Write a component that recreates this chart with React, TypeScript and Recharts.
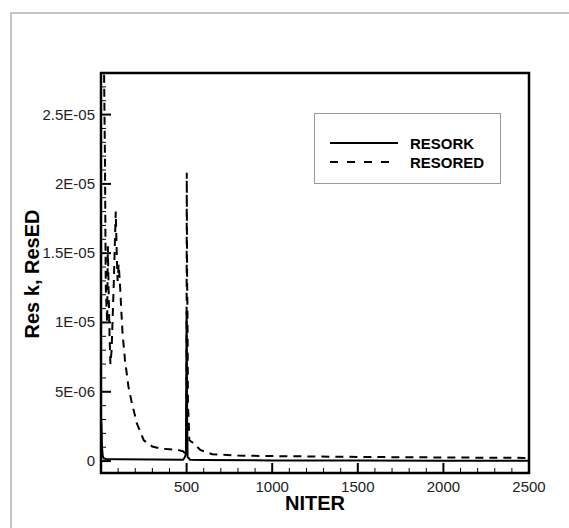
import React from 'react';
import { LineChart, Line, XAxis, YAxis, Legend, ReferenceArea, Label } from 'recharts';

// RESORK (solid)
const resorkIter = [0, 3, 6, 10, 15, 30, 100, 300, 480, 490, 496, 500, 503, 506, 520, 600, 1000, 1500, 2000, 2500];
const resorkVal = [3.2e-6, 2.4e-6, 1.0e-6, 4e-7, 2e-7, 1.5e-7, 1.3e-7, 1.1e-7, 1.0e-7, 3e-7, 5e-7, 1.08e-5, 3e-6, 3e-7, 1e-7, 8e-8, 5e-8, 4e-8, 3e-8, 3e-8];

// RESORED (dashed)
const resoredIter = [0, 18, 23, 26, 28, 36, 40, 45, 50, 55, 62, 75, 86, 92, 97, 103, 110, 118, 126, 140, 160, 180, 210, 250, 300, 350, 400, 450, 480, 495, 499, 501, 503, 505, 508, 512, 516, 540, 580, 650, 800, 1000, 1500, 2000, 2500];
const resoredVal = [4.0e-5, 2.8e-5, 2.2e-5, 1.6e-5, 1.25e-5, 1.0e-5, 1.55e-5, 1.2e-5, 9e-6, 7e-6, 8e-6, 1.3e-5, 1.8e-5, 1.5e-5, 1.3e-5, 1.42e-5, 1.3e-5, 1.1e-5, 9.2e-6, 7.3e-6, 5.4e-6, 4.2e-6, 2.7e-6, 1.5e-6, 1.05e-6, 9e-7, 8.5e-7, 8e-7, 7e-7, 5e-7, 3e-7, 2.08e-5, 1.3e-5, 1.1e-5, 4e-6, 3e-6, 1.5e-6, 1.3e-6, 8e-7, 5e-7, 4e-7, 3.6e-7, 3e-7, 2.6e-7, 2.3e-7];

const seriesNames = ['RESORK', 'RESORED'];

const xMajorTicks = [500, 1000, 1500, 2000, 2500];
const xTickLabels = ['500', '1000', '1500', '2000', '2500'];
const yMajorTicks = [0, 5e-6, 1e-5, 1.5e-5, 2e-5, 2.5e-5];
const yTickLabels = ['0', '5E-06', '1E-05', '1.5E-05', '2E-05', '2.5E-05'];

const xDomain: [number, number] = [0, 2500];
const yDomain: [number, number] = [-8.6e-7, 2.8e-5];

const xAllTicks = Array.from({ length: 26 }, (_, i) => i * 100);
const yAllTicks = Array.from({ length: 28 }, (_, i) => i * 1e-6);

const resorkData = resorkIter.map((it, i) => ({ iter: it, v: resorkVal[i] }));
const resoredData = resoredIter.map((it, i) => ({ iter: it, v: resoredVal[i] }));

const FONT = '"Liberation Sans", Arial, sans-serif';

const renderXTick = (props: any) => {
  const { x, y, payload } = props;
  const v = payload.value;
  if (v === 0 || v === 2500 && false) return <g />;
  const idx = xMajorTicks.indexOf(v);
  const major = idx >= 0;
  return (
    <g>
      <path d={`M${x},${y}L${x},${y - (major ? 10 : 5)}`} stroke="#000" strokeWidth={major ? 2 : 1} fill="none" />
      {major && (
        <text x={x} y={y + 19} textAnchor="middle" fontFamily={FONT} fontSize={15} fill="#222">
          {xTickLabels[idx]}
        </text>
      )}
    </g>
  );
};

const renderYTick = (props: any) => {
  const { x, y, payload } = props;
  const n = Math.round(payload.value * 1e6);
  const major = n % 5 === 0;
  const idx = yMajorTicks.findIndex((t) => Math.abs(t - payload.value) < 1e-9);
  return (
    <g>
      <path d={`M${x},${y}L${x + (major ? 10 : 5)},${y}`} stroke="#000" strokeWidth={major ? 2 : 1} fill="none" />
      {major && idx >= 0 && (
        <text x={x - 6} y={y + 5} textAnchor="end" fontFamily={FONT} fontSize={15} fill="#222">
          {yTickLabels[idx]}
        </text>
      )}
    </g>
  );
};

const renderLegend = (props: any) => {
  const payload = [...(props.payload || [])].sort(
    (a: any, b: any) => seriesNames.indexOf(a.value) - seriesNames.indexOf(b.value)
  );
  return (
    <div style={{ width: 187, height: 71, border: '1px solid #999', boxSizing: 'border-box', background: '#fff' }}>
      <svg width={185} height={69} style={{ display: 'block' }}>
        {payload.map((entry: any, i: number) => {
          const yy = 29 + i * 19;
          const dash = entry.payload && entry.payload.strokeDasharray ? '8 9' : undefined;
          return (
            <g key={i}>
              <line x1={15} x2={83} y1={yy} y2={yy} stroke="#000" strokeWidth={2} strokeDasharray={dash} />
              <text x={95} y={yy + 6} fontFamily={FONT} fontWeight="bold" fontSize={15} fill="#000">
                {entry.value}
              </text>
            </g>
          );
        })}
      </svg>
    </div>
  );
};

export default function App() {
  return (
    <div style={{ position: 'absolute', left: 0, top: 0, width: 569, height: 528, background: '#fff', overflow: 'hidden' }}>
      <div
        style={{
          position: 'absolute',
          left: 10,
          top: 12,
          width: 600,
          height: 600,
          borderTop: '2px solid #c4c4c4',
          borderLeft: '2px solid #c4c4c4',
        }}
      />
      <div style={{ position: 'absolute', left: 0, top: 0 }}>
        <LineChart width={569} height={528} margin={{ top: 73, right: 40, bottom: 25, left: 41 }}>
          <XAxis
            dataKey="iter"
            type="number"
            domain={xDomain}
            ticks={xAllTicks}
            interval={0}
            height={30}
            axisLine={false}
            tickLine={false}
            tickSize={0}
            tickMargin={0}
            tick={renderXTick}
            allowDataOverflow
          >
            <Label
              content={() => (
                <text x={315} y={510} textAnchor="middle" fontFamily={FONT} fontWeight="bold" fontSize={20} fill="#000">
                  NITER
                </text>
              )}
            />
          </XAxis>
          <YAxis
            type="number"
            domain={yDomain}
            ticks={yAllTicks}
            interval={0}
            width={60}
            axisLine={false}
            tickLine={false}
            tickSize={0}
            tickMargin={0}
            tick={renderYTick}
            allowDataOverflow
          >
            <Label
              content={() => (
                <text
                  x={32}
                  y={274}
                  textAnchor="middle"
                  dominantBaseline="central"
                  transform="rotate(-90 32 274)"
                  fontFamily={FONT}
                  fontWeight="bold"
                  fontSize={20}
                  fill="#000"
                >
                  Res k, ResED
                </text>
              )}
            />
          </YAxis>
          <ReferenceArea
            x1={xDomain[0]}
            x2={xDomain[1]}
            y1={yDomain[0]}
            y2={yDomain[1]}
            fill="none"
            stroke="#000"
            strokeWidth={2.5}
            ifOverflow="visible"
          />
          <Line
            data={resorkData}
            dataKey="v"
            name="RESORK"
            type="linear"
            stroke="#000"
            strokeWidth={2}
            dot={false}
            activeDot={false}
            isAnimationActive={false}
          />
          <Line
            data={resoredData}
            dataKey="v"
            name="RESORED"
            type="linear"
            stroke="#000"
            strokeWidth={2}
            strokeDasharray="8 6"
            dot={false}
            activeDot={false}
            isAnimationActive={false}
          />
          <Legend
            verticalAlign="middle"
            align="center"
            layout="horizontal"
            content={renderLegend}
            wrapperStyle={{ left: 314, top: 113, width: 187, height: 71 }}
          />
        </LineChart>
      </div>
    </div>
  );
}
